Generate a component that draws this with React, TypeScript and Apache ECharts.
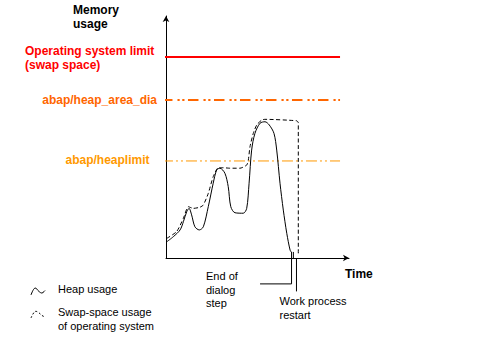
import React, { useEffect, useRef } from "react";
import * as echarts from "echarts";

// Time (0..100) and memory usage (0..100)
const heapTime = [0.4, 4.0, 7.7, 9.5, 11.3, 12.6, 14.0, 15.8, 18.2, 20.4, 23.1, 25.8, 27.7, 29.5, 32.2, 34.0, 35.4, 37.7, 42.2, 44.1, 45.4, 46.8, 48.6, 51.4, 54.1, 56.4, 59.0, 60.5, 62.3, 64.1, 66.0, 67.8, 68.6];
const heapUsage = [6.7, 8.8, 11.6, 15.0, 19.1, 20.5, 17.8, 12.9, 11.6, 12.9, 21.2, 30.9, 36.4, 37.1, 35.0, 29.5, 21.2, 18.7, 18.5, 20.5, 30.9, 44.6, 51.5, 55.7, 56.3, 55.0, 51.5, 44.6, 30.9, 19.8, 10.2, 3.3, 2.3];

const swapTime = [0.4, 5.8, 9.5, 12.2, 14.9, 18.6, 20.4, 23.1, 25.8, 28.6, 31.3, 35.0, 40.4, 44.1, 45.0, 45.9, 47.7, 49.6, 52.3, 54.1, 71.4, 72.3, 72.3];
const swapUsage = [8.1, 10.9, 16.4, 21.2, 20.5, 21.0, 21.9, 26.7, 33.6, 37.3, 37.3, 37.1, 37.1, 38.4, 40.5, 46.0, 51.5, 55.0, 57.0, 57.3, 56.7, 55.9, 1.2];

const limitNames = ["Operating system limit\n(swap space)", "abap/heap_area_dia", "abap/heaplimit"];
const limitValues = [83.1, 65.3, 40.1];
const limitStart = -2.2;
const limitEnd = 95.1;

const endOfDialogTime = 68.6;
const restartTime = 71.3;

const axisTitles = ["Memory\nusage", "Time"];
const legendLabels = ["Heap usage", "Swap-space usage\nof operating system"];
const eventLabels = ["End of\ndialog\nstep", "Work process\nrestart"];

const FONT = "'Liberation Sans', Arial, sans-serif";

export default function App() {
  const ref = useRef<HTMLDivElement>(null);

  useEffect(() => {
    if (!ref.current) return;
    const chart = echarts.init(ref.current, null, { renderer: "svg" });

    const pair = (xs: number[], ys: number[]) => xs.map((x, i) => [x, ys[i]]);

    const limitStyles = [
      { color: "#FF0000", width: 2, type: "solid" as any },
      { color: "#FF6600", width: 2, type: [10.5, 5, 2.2, 2.6, 2.2, 3.5] as any },
      { color: "#FF9900", width: 1, type: [11, 3, 2, 3, 2, 3] as any },
    ];

    const limitSeries = limitValues.map((v, i) => ({
      type: "line",
      name: limitNames[i],
      data: [
        [limitStart, v],
        [limitEnd, v],
      ],
      symbol: "none",
      clip: false,
      silent: true,
      lineStyle: limitStyles[i],
      z: 1,
    }));

    const textColor = ["#FF0000", "#FF6600", "#FF9900"];

    chart.setOption({
      animation: false,
      backgroundColor: "#ffffff",
      grid: { left: 166, top: 16, width: 183, height: 242, containLabel: false },
      xAxis: {
        type: "value",
        min: 0,
        max: 100,
        axisLine: { show: true, onZero: false, symbol: ["none", "arrow"], symbolSize: [5, 6], lineStyle: { color: "#000", width: 1 } },
        axisTick: { show: false },
        axisLabel: { show: false },
        splitLine: { show: false },
      },
      yAxis: {
        type: "value",
        min: 0,
        max: 100,
        axisLine: { show: true, onZero: false, symbol: ["none", "arrow"], symbolSize: [5, 6], lineStyle: { color: "#000", width: 1 } },
        axisTick: { show: false },
        axisLabel: { show: false },
        splitLine: { show: false },
      },
      series: [
        ...limitSeries,
        {
          type: "line",
          name: legendLabels[0],
          data: pair(heapTime, heapUsage),
          smooth: 0.3,
          symbol: "none",
          clip: false,
          lineStyle: { color: "#000", width: 1 },
          z: 3,
        },
        {
          type: "line",
          name: legendLabels[1],
          data: pair(swapTime, swapUsage),
          smooth: 0.2,
          symbol: "none",
          clip: false,
          lineStyle: { color: "#000", width: 1, type: [4, 2.5] },
          z: 3,
        },
        {
          type: "line",
          name: "End of dialog step",
          data: [
            [endOfDialogTime, 2.5],
            [endOfDialogTime, -10.7],
            [51.4, -10.7],
          ],
          symbol: "none",
          clip: false,
          lineStyle: { color: "#000", width: 1 },
        },
        {
          type: "line",
          name: "marker",
          data: [
            [69.6, 2.5],
            [69.6, 0],
          ],
          symbol: "none",
          clip: false,
          lineStyle: { color: "#000", width: 1 },
        },
        {
          type: "line",
          name: "Work process restart",
          data: [
            [restartTime, 0],
            [restartTime, -13.8],
          ],
          symbol: "none",
          clip: false,
          lineStyle: { color: "#000", width: 1 },
        },
      ],
      graphic: [
        {
          type: "text",
          x: 73,
          y: 3,
          style: { text: axisTitles[0], font: `bold 12px ${FONT}`, fill: "#000", lineHeight: 14, verticalAlign: "top", align: "left" },
        },
        {
          type: "text",
          x: 345,
          y: 273.5,
          style: { text: axisTitles[1], font: `bold 12px ${FONT}`, fill: "#000", verticalAlign: "middle", align: "left" },
        },
        {
          type: "text",
          x: 25,
          y: 43.7,
          style: { text: limitNames[0], font: `bold 12px ${FONT}`, fill: textColor[0], lineHeight: 14, verticalAlign: "top", align: "left" },
        },
        {
          type: "text",
          x: 157,
          y: 99.5,
          style: { text: limitNames[1], font: `bold 12px ${FONT}`, fill: textColor[1], verticalAlign: "middle", align: "right" },
        },
        {
          type: "text",
          x: 149.5,
          y: 160.3,
          style: { text: limitNames[2], font: `bold 12px ${FONT}`, fill: textColor[2], verticalAlign: "middle", align: "right" },
        },
        {
          type: "text",
          x: 206,
          y: 269.3,
          style: { text: eventLabels[0], font: `11px ${FONT}`, fill: "#000", lineHeight: 13.5, verticalAlign: "top", align: "left" },
        },
        {
          type: "text",
          x: 279.5,
          y: 294.5,
          style: { text: eventLabels[1], font: `11px ${FONT}`, fill: "#000", lineHeight: 13.5, verticalAlign: "top", align: "left" },
        },
        {
          type: "polyline",
          shape: { points: [[31, 295], [35, 288], [39, 291.5], [42, 293], [45, 290.5]], smooth: 0.4 },
          style: { stroke: "#000", lineWidth: 1, fill: "none" },
        },
        {
          type: "text",
          x: 58,
          y: 288.5,
          style: { text: legendLabels[0], font: `11px ${FONT}`, fill: "#000", verticalAlign: "middle", align: "left" },
        },
        {
          type: "polyline",
          shape: { points: [[31, 318], [35, 311.5], [38.5, 312.5], [42, 315.5], [45, 317]], smooth: 0.4 },
          style: { stroke: "#000", lineWidth: 1, fill: "none", lineDash: [2, 2] },
        },
        {
          type: "text",
          x: 58,
          y: 305.3,
          style: { text: legendLabels[1], font: `11px ${FONT}`, fill: "#000", lineHeight: 13.5, verticalAlign: "top", align: "left" },
        },
      ],
    });

    return () => chart.dispose();
  }, []);

  return (
    <div
      ref={ref}
      style={{ position: "fixed", left: 0, top: 0, width: 485, height: 363, background: "#fff" }}
    />
  );
}
